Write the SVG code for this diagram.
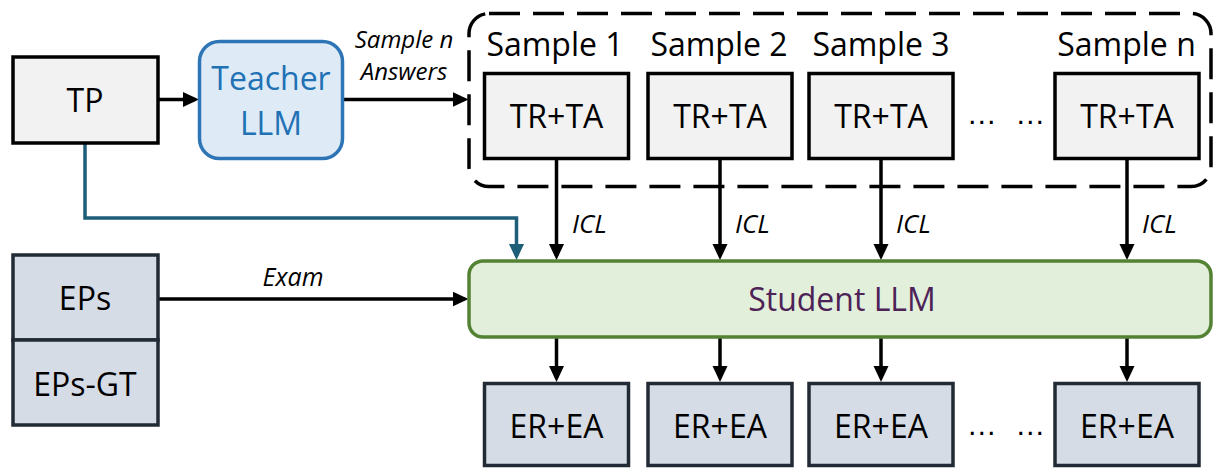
<svg xmlns="http://www.w3.org/2000/svg" width="1214" height="468" viewBox="0 0 1214 468">
  <style>
    text { font-family: "Open Sans", "Noto Sans", "Liberation Sans", sans-serif; fill: #000; }
    .lbl { font-size: 32px; text-anchor: middle; }
    .dots { font-family: "Liberation Sans", Arial, sans-serif; font-size: 30px; text-anchor: middle; word-spacing: 10px; }
    .it { font-style: italic; }
    .gray { fill: #f2f2f2; stroke: #000; stroke-width: 3.5; }
    .slate { fill: #d6dce5; stroke: #222a35; stroke-width: 3.5; }
    .wire { fill: none; stroke: #000; stroke-width: 3.5; }
    .wire-blue { fill: none; stroke: #1f5e78; stroke-width: 3.5; }
  </style>
  <defs>
    <marker id="arrow" markerUnits="userSpaceOnUse" markerWidth="17" markerHeight="16" refX="12" refY="8" orient="auto">
      <path d="M0,0.5 L16,8 L0,15.5 z" fill="#000"/>
    </marker>
    <marker id="arrow-blue" markerUnits="userSpaceOnUse" markerWidth="17" markerHeight="16" refX="12" refY="8" orient="auto">
      <path d="M0,0.5 L16,8 L0,15.5 z" fill="#1f5e78"/>
    </marker>
  </defs>

  <!-- sample group frame -->
  <g id="samples-frame">
    <rect x="469" y="13.5" width="742" height="173" rx="20" fill="none" stroke="#000" stroke-width="3.5" stroke-dasharray="31 13"/>
  </g>

  <!-- connectors -->
  <g id="connectors">
    <path class="wire" d="M158 99.5 H195" marker-end="url(#arrow)"/>
    <path class="wire" d="M343 99.5 H464.5" marker-end="url(#arrow)"/>
    <path class="wire-blue" d="M85 143 V218 H516.5 V256" marker-end="url(#arrow-blue)"/>
    <path class="wire" d="M158 299 H464.5" marker-end="url(#arrow)"/>
    <path class="wire" d="M556.5 159 V256" marker-end="url(#arrow)"/>
    <path class="wire" d="M720 159 V256" marker-end="url(#arrow)"/>
    <path class="wire" d="M881 159 V256" marker-end="url(#arrow)"/>
    <path class="wire" d="M1127 159 V256" marker-end="url(#arrow)"/>
    <path class="wire" d="M556.5 337 V378" marker-end="url(#arrow)"/>
    <path class="wire" d="M720 337 V378" marker-end="url(#arrow)"/>
    <path class="wire" d="M881 337 V378" marker-end="url(#arrow)"/>
    <path class="wire" d="M1127 337 V378" marker-end="url(#arrow)"/>
    <text class="it" x="404" y="48" font-size="24" text-anchor="middle">Sample n</text>
    <text class="it" x="404" y="80" font-size="24" text-anchor="middle">Answers</text>
    <text class="it" x="572" y="233" font-size="26">ICL</text>
    <text class="it" x="735" y="233" font-size="26">ICL</text>
    <text class="it" x="896" y="233" font-size="26">ICL</text>
    <text class="it" x="1142" y="233" font-size="26">ICL</text>
    <text class="it" x="293" y="286" font-size="25" text-anchor="middle">Exam</text>
  </g>

  <g id="tp">
    <rect class="gray" x="13" y="57" width="145" height="86"/>
    <text class="lbl" x="85" y="112">TP</text>
  </g>

  <g id="teacher-llm">
    <rect x="199.5" y="41.5" width="143" height="117" rx="20" fill="#deebf7" stroke="#2e75b6" stroke-width="3.5"/>
    <text class="lbl" x="271" y="90" style="fill:#2171b5">Teacher</text>
    <text class="lbl" x="271" y="135" style="fill:#2171b5">LLM</text>
  </g>

  <g id="sample-1">
    <text class="lbl" x="555" y="56">Sample 1</text>
    <rect class="gray" x="484.5" y="73.5" width="144" height="85"/>
    <text class="lbl" x="556.5" y="128">TR+TA</text>
  </g>
  <g id="sample-2">
    <text class="lbl" x="719" y="56">Sample 2</text>
    <rect class="gray" x="648" y="73.5" width="144" height="85"/>
    <text class="lbl" x="720" y="128">TR+TA</text>
  </g>
  <g id="sample-3">
    <text class="lbl" x="881" y="56">Sample 3</text>
    <rect class="gray" x="809" y="73.5" width="144" height="85"/>
    <text class="lbl" x="881" y="128">TR+TA</text>
  </g>
  <g id="sample-gap">
    <text class="dots" x="1006" y="124">… …</text>
  </g>
  <g id="sample-n">
    <text class="lbl" x="1126.5" y="56">Sample n</text>
    <rect class="gray" x="1055" y="73.5" width="144" height="85"/>
    <text class="lbl" x="1127" y="128">TR+TA</text>
  </g>

  <g id="exam-problems">
    <rect class="slate" x="13" y="255" width="145" height="85"/>
    <text class="lbl" x="85" y="310">EPs</text>
  </g>
  <g id="exam-ground-truth">
    <rect class="slate" x="13" y="340" width="145" height="85"/>
    <text class="lbl" x="85" y="396">EPs-GT</text>
  </g>

  <g id="student-llm">
    <rect x="469" y="261" width="742" height="76" rx="14" fill="#e2efda" stroke="#548235" stroke-width="3.5"/>
    <text class="lbl" x="842" y="311" style="fill:#4d2257">Student LLM</text>
  </g>

  <g id="exam-result-1">
    <rect class="slate" x="484.5" y="383.5" width="144" height="82"/>
    <text class="lbl" x="556.5" y="438">ER+EA</text>
  </g>
  <g id="exam-result-2">
    <rect class="slate" x="648" y="383.5" width="144" height="82"/>
    <text class="lbl" x="720" y="438">ER+EA</text>
  </g>
  <g id="exam-result-3">
    <rect class="slate" x="809" y="383.5" width="144" height="82"/>
    <text class="lbl" x="881" y="438">ER+EA</text>
  </g>
  <g id="exam-result-gap">
    <text class="dots" x="1006" y="435">… …</text>
  </g>
  <g id="exam-result-n">
    <rect class="slate" x="1055" y="383.5" width="144" height="82"/>
    <text class="lbl" x="1127" y="438">ER+EA</text>
  </g>
</svg>
